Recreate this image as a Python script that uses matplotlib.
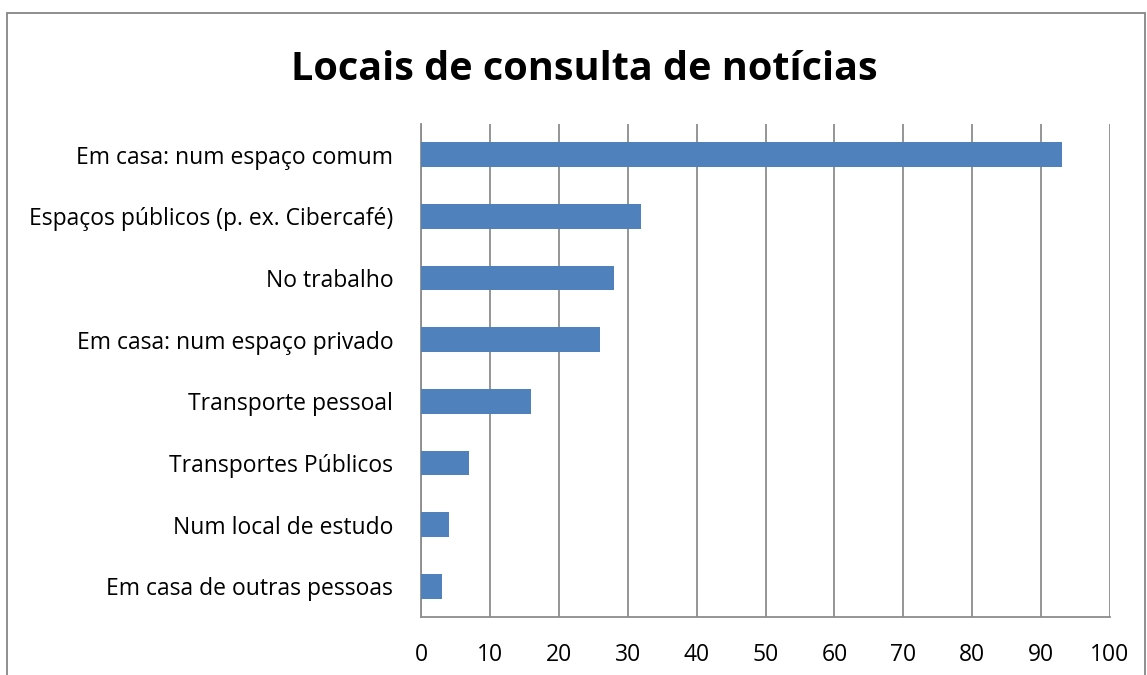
import matplotlib.pyplot as plt
from matplotlib.patches import Rectangle

categories = ['Em casa: num espaço comum', 'Espaços públicos (p. ex. Cibercafé)',
              'No trabalho', 'Em casa: num espaço privado', 'Transporte pessoal',
              'Transportes Públicos', 'Num local de estudo', 'Em casa de outras pessoas']
values = [93, 32, 28, 26, 16, 7, 4, 3]
xticks = list(range(0, 101, 10))

plt.rcParams['font.family'] = ['Open Sans', 'DejaVu Sans']

W, H = 1147, 675
fig = plt.figure(figsize=(W / 100, H / 100), dpi=100)
ax = fig.add_axes([421 / W, 1 - 617 / H, (1110 - 421) / W, (617 - 124) / H])

pos = list(range(len(categories)))
ax.barh(pos, values, height=0.4, color='#4F81BD', zorder=3)
ax.set_ylim(len(categories) - 0.5, -0.5)
ax.set_yticks(pos)
ax.set_yticklabels(categories, fontsize=16.5)
ax.set_xlim(0, 100)
ax.set_xticks(xticks)
ax.set_xticklabels([str(t) for t in xticks], fontsize=16.5)
ax.tick_params(length=0, colors='black')
ax.tick_params(axis='y', pad=20)
ax.tick_params(axis='x', pad=18.5)
ax.grid(axis='x', color='#8c8c8c', linewidth=1.3, zorder=0)

for s in ['top', 'right']:
    ax.spines[s].set_visible(False)
for s in ['left', 'bottom']:
    ax.spines[s].set_color('#8c8c8c')
    ax.spines[s].set_linewidth(1.3)

fig.text(584 / W, 1 - 70 / H, 'Locais de consulta de notícias', ha='center', va='center',
         fontsize=28.5, fontweight='bold')

border = Rectangle((7.5 / W, -0.1), (1145 - 7.5) / W, 1.1 - 12.5 / H, transform=fig.transFigure,
                   fill=False, edgecolor='#868686', linewidth=1.3, clip_on=False)
fig.add_artist(border)

fig.savefig('out.png', dpi=100)
